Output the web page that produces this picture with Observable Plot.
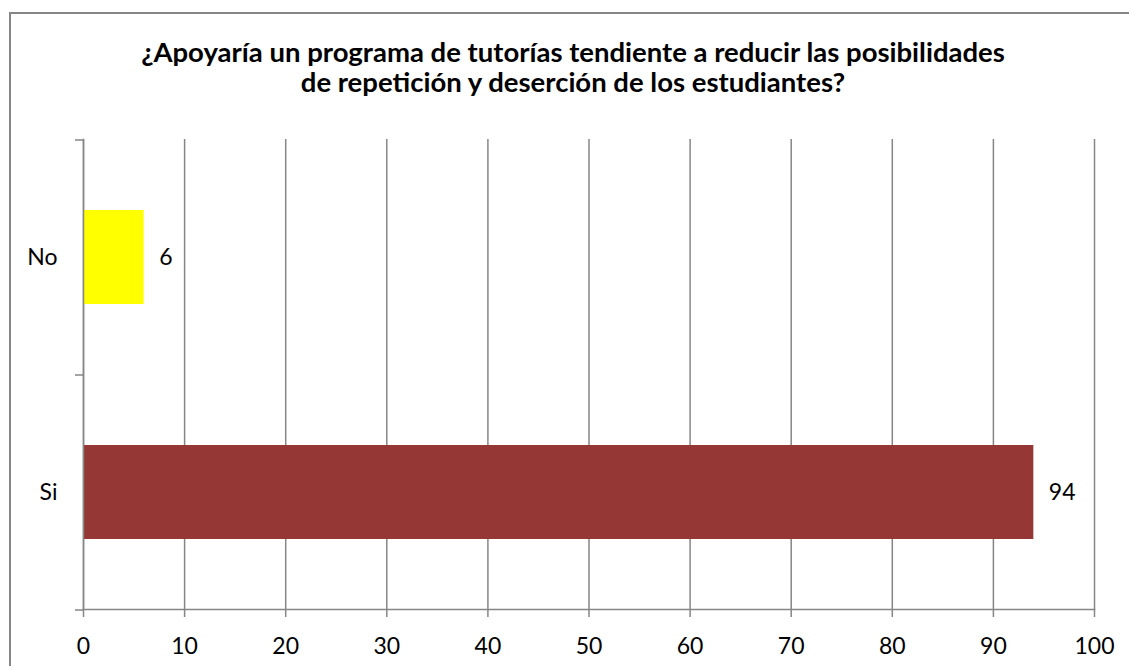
<!DOCTYPE html>
<html><head><meta charset="utf-8">
<script src="https://cdn.jsdelivr.net/npm/d3@7"></script>
<script src="https://cdn.jsdelivr.net/npm/@observablehq/plot@0.6"></script>
<style>
body{margin:0;width:1129px;height:666px;overflow:hidden;background:#fff;position:relative;font-family:Lato,sans-serif}
#frame{position:absolute;left:9px;top:12px;width:1130px;height:700px;border:2px solid #868686;box-sizing:border-box}
#title{position:absolute;left:9px;width:1128px;top:37px;text-align:center;font-weight:bold;font-size:27.5px;line-height:30px;color:#000;white-space:nowrap}
#chart{position:absolute;left:0;top:110px}
</style></head><body>
<div id="frame"></div>
<div id="title"></div>
<div id="chart"></div>
<script>
const titleLines = ["¿Apoyaría un programa de tutorías tendiente a reducir las posibilidades", "de repetición y deserción de los estudiantes?"];
const categories = ["No", "Si"];
const values = [6, 94];
const colors = ["#FFFF00", "#953735"];
const xTicks = [0, 10, 20, 30, 40, 50, 60, 70, 80, 90, 100];

document.getElementById("title").innerHTML = titleLines.join("<br>");

const W = 1129, H = 556, mt = 29, mb = 57, ml = 83, mr = 35;
const pi = 0.6, po = 0.3;
const step = (H - mt - mb) / (categories.length - pi + 2 * po);
const data = categories.map((c, i) => ({category: c, value: values[i], color: colors[i]}));
const gray = "#868686";

const chart = Plot.plot({
  width: W, height: H,
  marginTop: mt, marginBottom: mb, marginLeft: ml, marginRight: mr,
  style: {fontFamily: "Lato, sans-serif", fontSize: "23px", color: "#000", background: "transparent"},
  x: {domain: [0, 100]},
  y: {domain: categories, paddingInner: pi, paddingOuter: po},
  color: {type: "identity"},
  marks: [
    Plot.gridX(xTicks, {stroke: gray, strokeOpacity: 1, strokeWidth: 1.5}),
    Plot.barX(data, {x: "value", y: "category", fill: "color"}),
    Plot.text(data, {x: "value", y: "category", text: d => String(d.value), textAnchor: "start", dx: 15, fontSize: 23, fill: "#000"}),
    Plot.frame({anchor: "left", stroke: gray, strokeWidth: 1.5}),
    Plot.frame({anchor: "bottom", stroke: gray, strokeWidth: 1.5}),
    Plot.axisX(xTicks, {tickSize: 8, text: null, stroke: gray, strokeWidth: 1.5, label: null}),
    Plot.axisX(xTicks, {tickSize: 0, tickPadding: 28, fill: "#000", fontSize: 23, label: null}),
    Plot.axisY({tickSize: 0, tickPadding: 26, fill: "#000", fontSize: 23, label: null}),
    Plot.axisY(categories, {tickSize: 8, text: null, dy: -step / 2, stroke: gray, strokeWidth: 1.5, label: null}),
    Plot.axisY([categories[categories.length - 1]], {tickSize: 8, text: null, dy: step / 2, stroke: gray, strokeWidth: 1.5, label: null})
  ]
});
document.getElementById("chart").appendChild(chart);
</script>
</body></html>
